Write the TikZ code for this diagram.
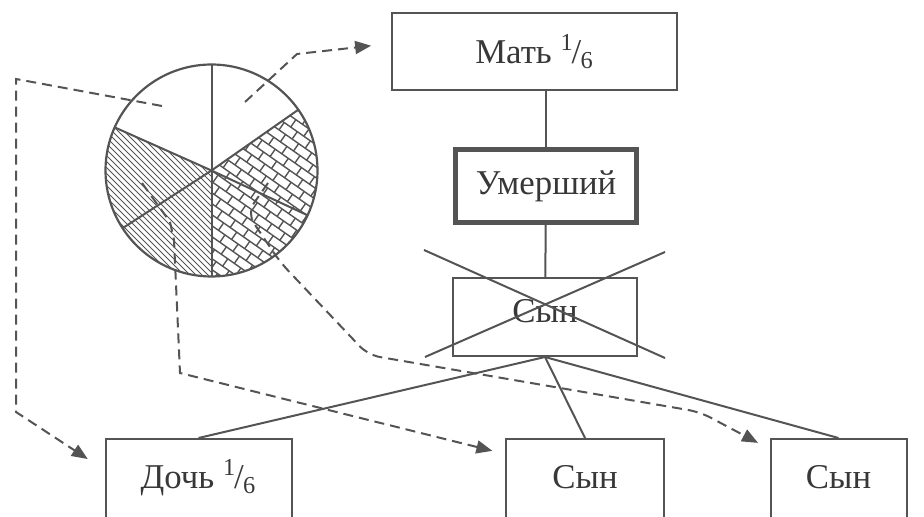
\documentclass[tikz,border=0pt]{standalone}
\usepackage{fontspec}
\setmainfont{Liberation Serif}
\usepackage{tikz}
\usetikzlibrary{arrows.meta}
\definecolor{ink}{gray}{0.33}
\tikzstyle{box} = [draw=ink, line width=1pt, text=black!78, inner sep=0pt]
\tikzstyle{tie} = [draw=ink, line width=1pt]
\tikzstyle{share} = [draw=ink, line width=1pt, dash pattern=on 5pt off 3pt, -{Triangle[length=8pt,width=6.5pt]}]
\newcommand{\onesixth}{\textsuperscript{1}\kern-0.06em/\kern-0.02em\textsubscript{6}}

\begin{document}
\begin{tikzpicture}[x=0.5pt, y=-0.5pt, font=\fontsize{17.4}{20}\selectfont]
    \useasboundingbox (0,0) rectangle (924,517);
    \clip (0,0) rectangle (924,517);

    % Heirs
    \node[box, minimum width=142.5pt, minimum height=38.5pt] (mother) at (534.5,51.5) {Мать \onesixth};
    \node[box, line width=2.5pt, minimum width=90.5pt, minimum height=36.5pt] (deceased) at (546,186) {Умерший};
    \node[box, minimum width=92pt, minimum height=39pt, text height=12pt, text depth=6pt] (son) at (545,317) {Сын};
    \node[box, anchor=north, minimum width=93pt, minimum height=45pt, text height=12pt, text depth=7.5pt] (daughter) at (198.5,438) {Дочь \onesixth};
    \node[box, anchor=north, minimum width=79pt, minimum height=45pt, text height=12pt, text depth=7.5pt] (sonA) at (585,438) {Сын};
    \node[box, anchor=north, minimum width=68pt, minimum height=45pt, text height=12pt, text depth=7.5pt] (sonB) at (838.5,438) {Сын};

    % Family lines
    \draw[tie] (deceased.north |- mother.south) -- (deceased.north);
    \draw[tie] (deceased) -- (son);
    \draw[tie] (son.south) -- (daughter.north);
    \draw[tie] (son.south) -- (sonA.north);
    \draw[tie] (son.south) -- (sonB.north);

    % Son died before: crossed out
    \draw[tie] (424,250) -- (665,358);
    \draw[tie] (425,357) -- (665,252);

    % Estate pie
    \begin{scope}[shift={(211.5,170.5)}, yscale=-1]
        \begin{scope}
            \clip (0,0) -- (156:106) arc[start angle=156, end angle=270, radius=106] -- cycle;
            \foreach \i in {-252,-246,...,252}
                \draw[ink, line width=0.45pt] (\i-110,110) -- (\i+110,-110);
        \end{scope}
        \begin{scope}
            \clip (0,0) -- (270:106) arc[start angle=270, end angle=395, radius=106] -- cycle;
            \begin{scope}[rotate=35]
                \foreach \k in {-13,...,13} {
                    \draw[ink, line width=0.7pt] (-130,\k*9) -- (130,\k*9);
                    \foreach \j in {-9,...,9}
                        \draw[ink, line width=0.7pt] ({\j*16+mod(abs(\k),2)*8},\k*9) -- ++(0,9);
                }
            \end{scope}
        \end{scope}
        \draw[ink, line width=1.1pt] (0,0) circle[radius=106];
        \foreach \a in {90,35,-25,270,213,156}
            \draw[ink, line width=1pt] (0,0) -- (\a:106);
    \end{scope}

    % Shares passed on
    \coordinate (fromM) at (245,102);
    \coordinate (fromD) at (162,106);
    \coordinate (fromS1) at (142,183);
    \coordinate (fromS2) at (268,183);
    \draw[share, shorten >=10pt] (fromM) -- (297,54) -- ([yshift=4pt]mother.west);
    \draw[share, shorten >=10pt] (fromD) -- (16,79) -- (16,412) -- ([yshift=-16pt]daughter.north west);
    \draw[share, shorten >=6.5pt] (fromS1) -- (170,222) -- (174,240) -- (180,373) -- ([yshift=-8pt]sonA.north west);
    \draw[share, shorten >=6.5pt, rounded corners=6pt] (fromS2) -- (247,213) -- (280,262) -- (368,355) -- (700,412) -- ([yshift=-5.5pt]sonB.north west);
\end{tikzpicture}
\end{document}
